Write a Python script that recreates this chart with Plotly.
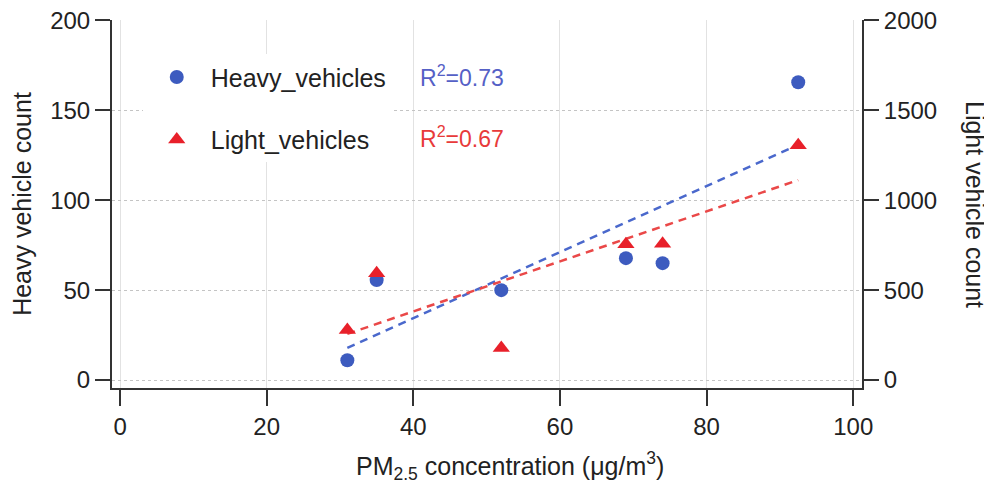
import numpy as np
import plotly.graph_objects as go

# Data
pm25 = [31, 35, 52, 69, 74, 92.5]
heavy_counts = [11, 55.6, 50, 67.8, 65, 165.6]
light_counts = [278, 594, 178, 755, 758, 1306]
x_ticks = [0, 20, 40, 60, 80, 100]
heavy_ticks = [0, 50, 100, 150, 200]
light_ticks = [0, 500, 1000, 1500, 2000]
r2_labels = ["R<sup>2</sup>=0.73", "R<sup>2</sup>=0.67"]

BLUE = "#3d5bbf"
RED = "#e8202a"
AXIS = "#333333"
FONT = "Liberation Sans, Arial, Helvetica, sans-serif"

x_arr = np.array(pm25, dtype=float)
hfit = np.polyfit(x_arr, np.array(heavy_counts), 1)
lfit = np.polyfit(x_arr, np.array(light_counts), 1)
xf = np.array([x_arr.min(), x_arr.max()])

fig = go.Figure()

fig.add_trace(go.Scatter(
    x=xf, y=np.polyval(hfit, xf), mode="lines", yaxis="y",
    line=dict(color="#4a68cc", width=2.5, dash="8px,6px"), showlegend=False, hoverinfo="skip"))
fig.add_trace(go.Scatter(
    x=xf, y=np.polyval(lfit, xf), mode="lines", yaxis="y2",
    line=dict(color="#ea4848", width=2.5, dash="8px,6px"), showlegend=False, hoverinfo="skip"))

fig.add_trace(go.Scatter(
    x=pm25, y=heavy_counts, mode="markers", name="Heavy_vehicles", yaxis="y",
    legendgroup="h",
    marker=dict(symbol="circle", size=14, color=BLUE)))
fig.add_trace(go.Scatter(
    x=pm25, y=light_counts, mode="markers", name="Light_vehicles", yaxis="y2",
    legendgroup="l",
    marker=dict(symbol="triangle-up", size=15, color=RED)))

fig.update_layout(
    width=984, height=487,
    margin=dict(l=104, r=130, t=12, b=107, autoexpand=False),
    plot_bgcolor="white", paper_bgcolor="white",
    font=dict(family=FONT, size=24, color="#222222"),
    xaxis=dict(
        range=[-1.1, 101.2], tickvals=x_ticks, automargin=False,
        showline=True, linecolor=AXIS, linewidth=2,
        ticks="outside", ticklen=16, tickwidth=2, tickcolor=AXIS,
        showgrid=True, gridcolor="#e2e2e2", gridwidth=1, zeroline=False,
        ticklabeloverflow="allow",
    ),
    yaxis=dict(
        range=[-4.4, 200.2], tickvals=heavy_ticks, automargin=False,
        showline=True, linecolor=AXIS, linewidth=2,
        ticks="outside", ticklen=15, tickwidth=2, tickcolor=AXIS,
        showgrid=True, gridcolor="#c4c4c4", gridwidth=1, griddash="dot", zeroline=False,
        ticklabeloverflow="allow",
        title=dict(text="Heavy vehicle count", font=dict(size=25)),
    ),
    yaxis2=dict(
        range=[-44, 2002], tickvals=light_ticks, overlaying="y", side="right",
        automargin=False,
        showline=True, linecolor=AXIS, linewidth=2,
        ticks="outside", ticklen=15, tickwidth=2, tickcolor=AXIS,
        showgrid=False, zeroline=False,
        ticklabeloverflow="allow",
    ),
    legend=dict(
        x=0.041, y=0.907, xanchor="left", yanchor="top",
        bgcolor="white", font=dict(size=25, color="#222222"),
        tracegroupgap=27, itemwidth=58,
    ),
    annotations=[
        dict(text=r2_labels[0], x=0.408, y=0.847, xref="paper", yref="paper",
             xanchor="left", yanchor="middle", showarrow=False,
             font=dict(size=23, color="#5560c6")),
        dict(text=r2_labels[1], x=0.408, y=0.683, xref="paper", yref="paper",
             xanchor="left", yanchor="middle", showarrow=False,
             font=dict(size=23, color="#e83a3a")),
        dict(text="PM<sub>2.5</sub> concentration (\u03bcg/m<sup>3</sup>)",
             x=0.531, y=-0.213, xref="paper", yref="paper",
             xanchor="center", yanchor="middle", showarrow=False,
             font=dict(size=25, color="#222222")),
        dict(text="Light vehicle count", textangle=90,
             x=1.1507, y=0.5, xref="paper", yref="paper",
             xanchor="center", yanchor="middle", showarrow=False,
             font=dict(size=25, color="#222222")),
    ],
)

fig.write_html("out.html")
